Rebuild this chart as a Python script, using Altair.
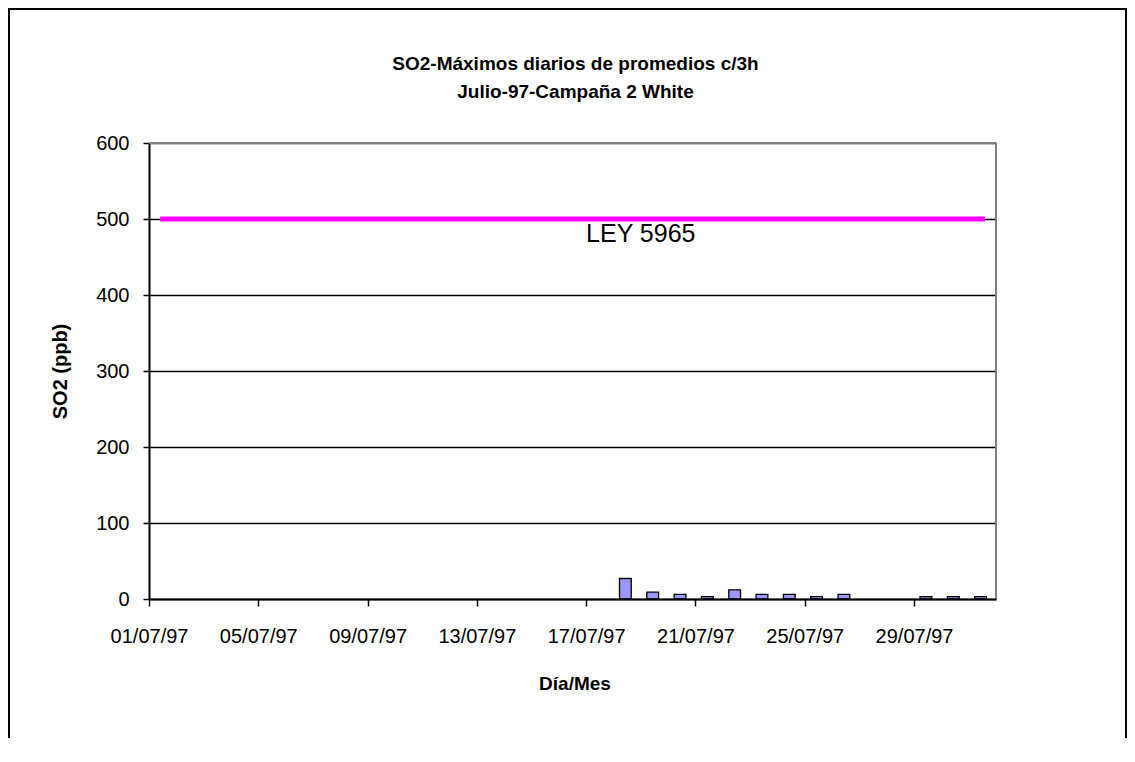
import altair as alt
import pandas as pd

# ---- data ----
bar_days = [18, 19, 20, 21, 22, 23, 24, 25, 26, 29, 30, 31]
so2_values = [27, 9, 6, 3, 12, 6, 6, 3, 6, 3, 3, 3]
tick_days = [1, 5, 9, 13, 17, 21, 25, 29]
tick_labels = ["01/07/97", "05/07/97", "09/07/97", "13/07/97",
               "17/07/97", "21/07/97", "25/07/97", "29/07/97"]
y_ticks = [0, 100, 200, 300, 400, 500, 600]
limit_days = [1, 31]
limit_value = [500]
limit_label = ["LEY 5965"]
title_lines = ["SO2-Máximos diarios de promedios c/3h", "Julio-97-Campaña 2 White"]

W, H = 847, 456
FONT = "Liberation Sans"

bars_df = pd.DataFrame({"day": bar_days, "so2": so2_values})
limit_df = pd.DataFrame({"start": [limit_days[0]], "end": [limit_days[1]],
                         "value": limit_value, "label": limit_label})
one = pd.DataFrame({"k": [0]})

label_expr = ("[" + ",".join(f"'{l}'" for l in tick_labels) + "][indexof(["
              + ",".join(str(d) for d in tick_days) + "], datum.value)]")

x_scale = alt.Scale(domain=[1, 32], nice=False, zero=False)
y_scale = alt.Scale(domain=[0, 600], nice=False)

x_axis = alt.Axis(values=tick_days, labelExpr=label_expr, title="Día/Mes",
                  grid=False, domainColor="black", domainWidth=2,
                  tickColor="black", tickWidth=1.5, tickSize=7,
                  labelPadding=20, labelFontSize=20, labelFont=FONT,
                  labelColor="black", labelFlush=False, labelOverlap=False,
                  titleFontSize=19, titleFont=FONT, titleFontWeight="bold",
                  titleColor="black", titleX=W / 2 + 2, titleY=84,
                  titleBaseline="middle", titleAlign="center", zindex=1)
y_axis = alt.Axis(values=y_ticks, title="SO2 (ppb)", grid=True,
                  gridColor="black", gridWidth=1.3,
                  domainColor="black", domainWidth=2,
                  tickColor="black", tickWidth=1.5, tickSize=6,
                  labelPadding=14, labelFontSize=20, labelFont=FONT,
                  labelColor="black", labelFlush=False,
                  titleFontSize=20, titleFont=FONT, titleFontWeight="bold",
                  titleColor="black", titleX=-89, titleY=H / 2,
                  titleAngle=-90, titleBaseline="middle", titleAlign="center",
                  zindex=0)

border = alt.Chart(one).mark_rect(fillOpacity=0, stroke="black", strokeWidth=2).encode(
    x=alt.value(-140), x2=alt.value(W + 130), y=alt.value(-134), y2=alt.value(H + 300)
)

title1 = alt.Chart(one).mark_text(
    align="center", baseline="middle", fontSize=19, fontWeight="bold", font=FONT, color="black"
).encode(x=alt.value(W / 2 + 3), y=alt.value(-79), text=alt.value(title_lines[0]))
title2 = alt.Chart(one).mark_text(
    align="center", baseline="middle", fontSize=19, fontWeight="bold", font=FONT, color="black"
).encode(x=alt.value(W / 2 + 3), y=alt.value(-51), text=alt.value(title_lines[1]))

bars = alt.Chart(bars_df).transform_calculate(
    x0="datum.day + 0.22", x1="datum.day + 0.65", base="0"
).mark_rect(fill="#9999FF", stroke="black", strokeWidth=1.3).encode(
    x=alt.X("x0:Q", scale=x_scale, axis=x_axis),
    x2="x1:Q",
    y=alt.Y("so2:Q", scale=y_scale, axis=y_axis),
    y2="base:Q",
)

line = alt.Chart(limit_df).transform_calculate(
    xs="datum.start + 0.5", xe="datum.end + 0.5"
).mark_rule(color="#FF00FF", strokeWidth=5, strokeCap="square").encode(
    x=alt.X("xs:Q", scale=x_scale), x2="xe:Q",
    y=alt.Y("value:Q", scale=y_scale),
)

text = alt.Chart(limit_df).mark_text(
    align="center", baseline="alphabetic", dy=23, fontSize=25, font=FONT, color="black"
).encode(
    x=alt.datum(19, scale=x_scale), y=alt.Y("value:Q", scale=y_scale), text="label:N"
)

top_rule = alt.Chart(one).mark_rule(color="#808080", strokeWidth=2).encode(
    x=alt.value(0), x2=alt.value(W), y=alt.value(0)
)
right_rule = alt.Chart(one).mark_rule(color="#808080", strokeWidth=2).encode(
    x=alt.value(W), y=alt.value(0), y2=alt.value(H)
)

chart = alt.layer(border, title1, title2, bars, line, text, top_rule, right_rule).properties(
    width=W, height=H,
    autosize=alt.AutoSizeParams(type="none"),
    padding={"left": 141, "top": 135, "right": 131, "bottom": 139},
).configure_view(strokeWidth=0).configure(background="white")

chart.save("out.html", embed_options={"renderer": "svg", "actions": False})
